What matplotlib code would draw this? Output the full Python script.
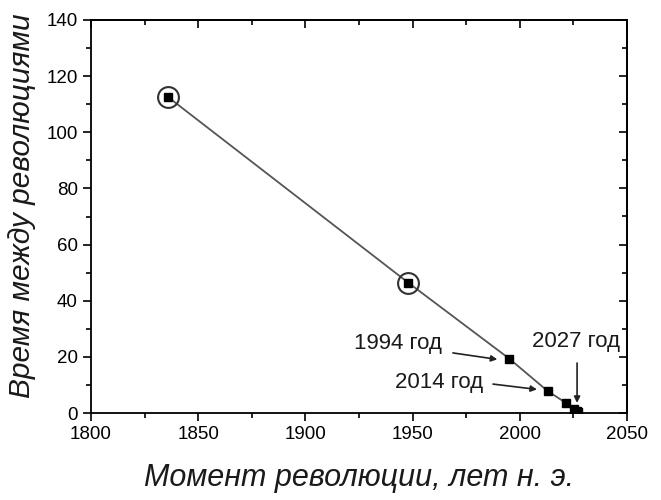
import matplotlib
matplotlib.use("Agg")
import matplotlib.pyplot as plt
from matplotlib.ticker import MultipleLocator

plt.rcParams['font.family'] = ['Liberation Sans', 'DejaVu Sans']

years = [1836, 1948, 1995, 2013, 2021.5, 2025.5, 2026.5, 2027]
intervals = [112.5, 46.4, 19.4, 7.8, 3.6, 1.6, 0.8, 0.3]
circled_years = [1836, 1948]
circled_intervals = [112.5, 46.4]

annot_labels = ["1994 год", "2014 год", "2027 год"]
annot_text_pos = [(1963.7, 24.9), (1982.8, 10.7), (2026.2, 25.3)]
annot_ha = ['right', 'right', 'center']
arrow_start = [(1968.8, 21.4), (1987.5, 10.3), (2026.7, 17.8)]
arrow_end = [(1989.5, 19.1), (2008.0, 8.4), (2026.7, 3.6)]

fig = plt.figure(figsize=(6.61, 5.0), dpi=100)
ax = fig.add_axes([0.1377, 0.174, 0.8109, 0.786])

ax.plot(years, intervals, color='#555555', lw=1.3, zorder=2)
ax.plot(years, intervals, ls='none', marker='s', ms=6, color='black', zorder=3)
ax.plot(circled_years, circled_intervals, ls='none', marker='o', ms=15,
        mfc='none', mec='#333333', mew=1.5, zorder=4)

for lab, tp, ha, st, en in zip(annot_labels, annot_text_pos, annot_ha, arrow_start, arrow_end):
    ax.text(tp[0], tp[1], lab, ha=ha, va='center', fontsize=16, color='#1a1a1a')
    ax.annotate('', xy=en, xytext=st,
                arrowprops=dict(arrowstyle='-|>', color='#222222', lw=1.2,
                                mutation_scale=9, shrinkA=0, shrinkB=0))

ax.set_xlim(1800, 2050)
ax.set_ylim(0, 140)
ax.xaxis.set_major_locator(MultipleLocator(50))
ax.xaxis.set_minor_locator(MultipleLocator(25))
ax.yaxis.set_major_locator(MultipleLocator(20))
ax.yaxis.set_minor_locator(MultipleLocator(10))

ax.tick_params(axis='both', which='both', direction='out', labelsize=13.5, width=1.2,
               top=False, right=False)
ax.tick_params(which='major', length=6)
ax.tick_params(which='minor', length=3.5)

sec_x = ax.secondary_xaxis('top')
sec_x.xaxis.set_major_locator(MultipleLocator(50))
sec_x.xaxis.set_minor_locator(MultipleLocator(25))
sec_x.tick_params(direction='in', which='both', labeltop=False, width=1.2)
sec_x.tick_params(which='major', length=6)
sec_x.tick_params(which='minor', length=3.5)
sec_y = ax.secondary_yaxis('right')
sec_y.yaxis.set_major_locator(MultipleLocator(20))
sec_y.yaxis.set_minor_locator(MultipleLocator(10))
sec_y.tick_params(direction='in', which='both', labelright=False, width=1.2)
sec_y.tick_params(which='major', length=6)
sec_y.tick_params(which='minor', length=3.5)

for s in ax.spines.values():
    s.set_linewidth(1.3)
for s in list(sec_x.spines.values()) + list(sec_y.spines.values()):
    s.set_linewidth(1.3)

ax.set_xlabel("Момент революции, лет н. э.", fontsize=22, style='italic', labelpad=14,
              color='#1a1a1a')
ax.set_ylabel("Время между революциями", fontsize=21.5, style='italic',
              color='#1a1a1a')
ax.yaxis.set_label_coords(-0.103, 0.528)

fig.savefig("out.png", dpi=100, facecolor='white')
